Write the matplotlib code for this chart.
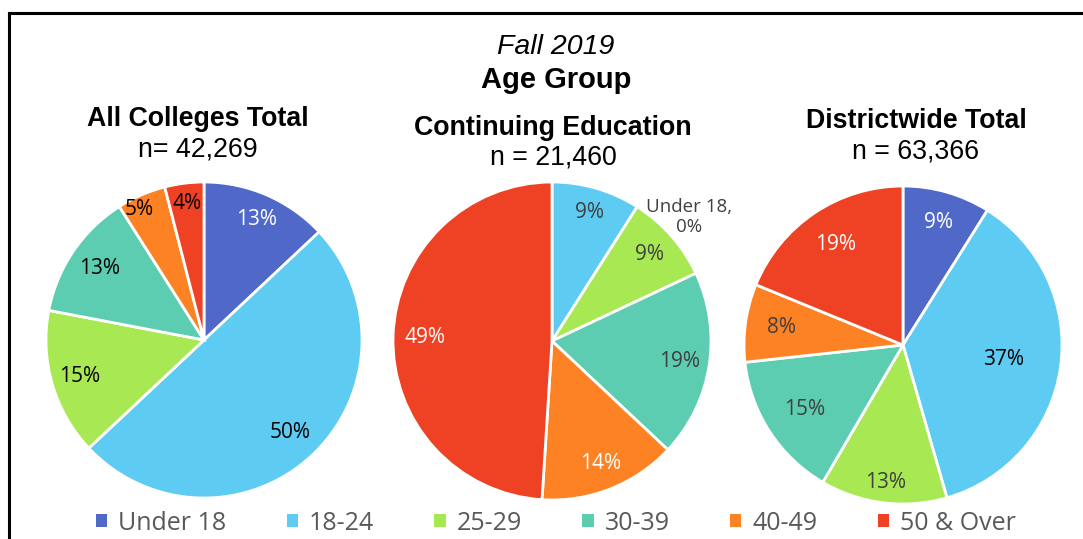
import math
import matplotlib
matplotlib.use("Agg")
import matplotlib.pyplot as plt
from matplotlib.patches import Patch
from matplotlib.lines import Line2D

# ---- data ----
categories = ["Under 18", "18-24", "25-29", "30-39", "40-49", "50 & Over"]
all_colleges = [13, 50, 15, 13, 5, 4]
continuing_ed = [0, 9, 9, 19, 14, 49]
districtwide = [9, 37, 13, 15, 8, 19]
titles = ["All Colleges Total", "Continuing Education", "Districtwide Total"]
n_labels = ["n= 42,269", "n = 21,460", "n = 63,366"]

colors = ["#5068C8", "#5ECBF2", "#A8E852", "#5CCDB1", "#FD8223", "#EF4224"]

W, H = 1083, 539
fig = plt.figure(figsize=(W / 100, H / 100), dpi=100)
fig.patch.set_facecolor("white")

def fx(x): return x / W
def fy(y): return 1 - y / H

# frame lines (top and left)
fig.add_artist(Line2D([fx(9), fx(1083)], [fy(13), fy(13)], color="black", lw=2.2, transform=fig.transFigure))
fig.add_artist(Line2D([fx(9), fx(9)], [fy(13), fy(539)], color="black", lw=2.2, transform=fig.transFigure))

# main titles
fig.text(fx(556), fy(47), "Fall 2019", ha="center", va="center", fontsize=20.5,
         style="italic", family="Liberation Sans")
fig.text(fx(556), fy(80), "Age Group", ha="center", va="center", fontsize=21,
         weight="bold", family="Liberation Sans")

pies = [all_colleges, continuing_ed, districtwide]
centers = [(204, 340, 158), (552, 341, 159), (903, 345, 159)]
title_pos = [(198, 119, 150), (553, 128, 158), (916, 121, 151)]
label_colors = [
    ["white", "black", "black", "black", "black", "black"],
    ["#404040", "#404040", "#404040", "#404040", "white", "white"],
    ["white", "black", "#404040", "#404040", "#404040", "white"],
]
label_dist = [
    [0.83, 0.80, 0.82, 0.80, 0.92, 0.87],
    [0.80, 0.84, 0.82, 0.81, 0.83, 0.80],
    [0.80, 0.64, 0.87, 0.74, 0.77, 0.76],
]
label_angle_shift = [
    [0, 0, 0, 0, 3, 0],
    [0, 0, 0, 0, 0, 0],
    [0, 0, 0, 0, 0, 0],
]

for i, vals in enumerate(pies):
    cx, cy, r = centers[i]
    ax = fig.add_axes([fx(cx - r), fy(cy + r), 2 * r / W, 2 * r / H])
    ax.pie(vals, colors=colors, startangle=90, counterclock=False,
           radius=1, wedgeprops=dict(edgecolor="white", linewidth=2))
    ax.set_xlim(-1, 1)
    ax.set_ylim(-1, 1)
    ax.set_aspect("equal")
    ax.axis("off")
    total = sum(vals)
    cum = 0
    for j, v in enumerate(vals):
        mid = 90 - 360 * (cum + v / 2) / total + label_angle_shift[i][j]
        cum += v
        if v == 0:
            continue
        d = label_dist[i][j]
        ax.text(d * math.cos(math.radians(mid)), d * math.sin(math.radians(mid)),
                f"{v}%", ha="center", va="center", fontsize=15, family="Open Sans",
                color=label_colors[i][j])
    tx, ty1, ty2 = title_pos[i]
    fig.text(fx(tx), fy(ty1), titles[i], ha="center", va="center", fontsize=19.3,
             weight="bold", family="Liberation Sans")
    fig.text(fx(tx), fy(ty2), n_labels[i], ha="center", va="center", fontsize=19.3,
             family="Liberation Sans")
    if i == 1:
        ax.text(0.86, 0.78, f"{categories[0]},\n{vals[0]}%", ha="center", va="center",
                fontsize=13.5, family="Open Sans", color="#404040", linespacing=1.2)

handles = [Patch(facecolor=c, edgecolor="none") for c in colors]
leg = fig.legend(handles, categories, loc="center left",
                 bbox_to_anchor=(fx(96), fy(523)), ncol=6, frameon=False,
                 prop={"family": "Open Sans", "size": 18},
                 handlelength=0.45, handleheight=0.45, handletextpad=0.45,
                 columnspacing=2.4, borderpad=0, borderaxespad=0)
for t in leg.get_texts():
    t.set_color("#595959")

fig.savefig("out.png", dpi=100, facecolor="white")
